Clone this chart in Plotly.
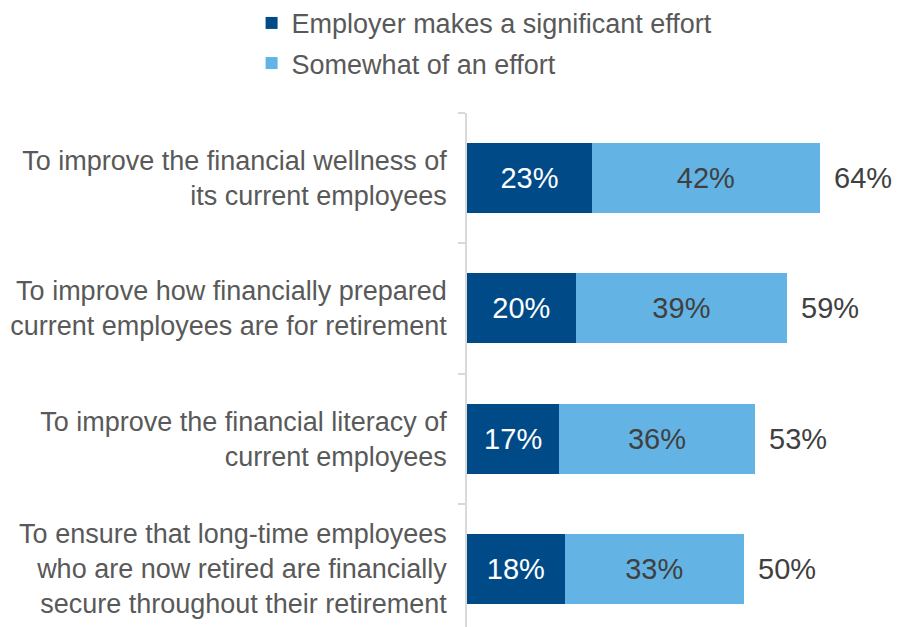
import plotly.graph_objects as go

# Survey categories (top to bottom) and effort shares, in percent
categories = [
    "To improve the financial wellness of<br>its current employees",
    "To improve how financially prepared<br>current employees are for retirement",
    "To improve the financial literacy of<br>current employees",
    "To ensure that long-time employees<br>who are now retired are financially<br>secure throughout their retirement",
]
significant = [23, 20, 17, 18]
somewhat = [42, 39, 36, 33]
total_labels = [64, 59, 53, 50]

series_names = ["Employer makes a significant effort", "Somewhat of an effort"]

DARK = "#004B87"
LIGHT = "#63B4E4"
GRID = "#D9D9D9"
TEXT = "#595959"
FONT = "Liberation Sans, Arial, sans-serif"

fig = go.Figure()
fig.add_trace(go.Bar(
    y=categories, x=significant, orientation="h", name=series_names[0],
    marker=dict(color=DARK, line=dict(width=0)),
    text=[f"{v}%" for v in significant], textposition="inside",
    insidetextanchor="middle", textangle=0,
    textfont=dict(family=FONT, size=29, color="white"),
    legendgroup="a", hoverinfo="skip",
))
fig.add_trace(go.Bar(
    y=categories, x=somewhat, orientation="h", name=series_names[1],
    marker=dict(color=LIGHT, line=dict(width=0)),
    text=[f"{v}%" for v in somewhat], textposition="inside",
    insidetextanchor="middle", textangle=0,
    textfont=dict(family=FONT, size=29, color="#404040"),
    legendgroup="b", hoverinfo="skip",
))

# Total labels just past the end of each stacked bar
for cat, a, b, t in zip(categories, significant, somewhat, total_labels):
    fig.add_annotation(
        x=a + b, y=cat, text=f"{t}%", showarrow=False,
        xanchor="left", xshift=12,
        font=dict(family=FONT, size=29, color="#404040"),
    )

fig.update_layout(
    width=905, height=627,
    barmode="stack", bargap=0.463,
    plot_bgcolor="white", paper_bgcolor="white",
    margin=dict(l=467, r=0, t=113, b=0, pad=0, autoexpand=False),
    font=dict(family=FONT, color=TEXT),
    showlegend=True,
    legend=dict(
        xref="container", yref="paper", x=0.278, y=1.222,
        xanchor="left", yanchor="top",
        traceorder="grouped", tracegroupgap=2,
        font=dict(family=FONT, size=27, color=TEXT),
        itemwidth=30, bgcolor="rgba(0,0,0,0)",
    ),
    xaxis=dict(
        range=[0, 80.7], visible=False, fixedrange=True, automargin=False,
    ),
    yaxis=dict(
        type="category", categoryorder="array", categoryarray=categories,
        range=[3.446, -0.5], automargin=False,
        showline=True, linecolor=GRID, linewidth=1.5,
        ticks="outside", tickson="boundaries", ticklen=7,
        tickcolor=GRID, tickwidth=1.5,
        showgrid=False, zeroline=False,
        tickfont=dict(family=FONT, size=27, color=TEXT),
        ticklabelstandoff=13,
    ),
)

fig.write_html("out.html")
